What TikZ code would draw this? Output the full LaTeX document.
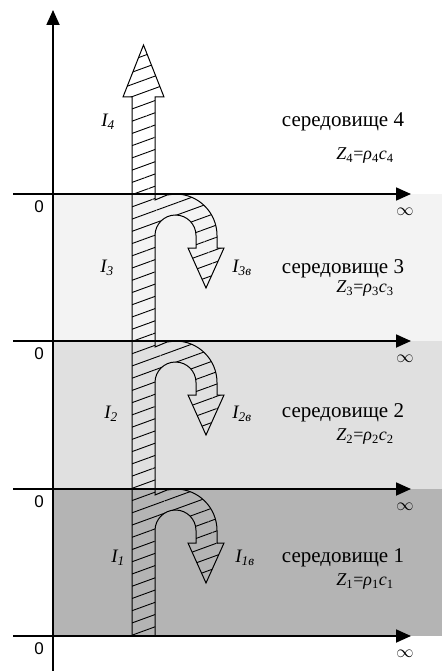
\documentclass[tikz,border=0pt]{standalone}
\usepackage{fontspec}
\setmainfont{Liberation Serif}
\newfontfamily\axisfont{Liberation Sans}
\usetikzlibrary{arrows.meta,patterns.meta}
\definecolor{mlight}{HTML}{F3F3F3}
\definecolor{mmid}{HTML}{E0E0E0}
\definecolor{mdark}{HTML}{B4B4B4}
\tikzset{
  axis/.style={line width=1.8pt,-{Triangle[length=15pt,width=13pt]}},
  beam/.style={draw=black,line width=1pt,line join=miter,pattern={Lines[angle=20,distance=11.5pt,line width=0.9pt]}},
  medium/.style={font=\fontsize{21}{23}\selectfont},
  imped/.style={font=\fontsize{18}{20}\selectfont},
  intens/.style={font=\fontsize{19}{21}\selectfont\itshape},
  zero/.style={font=\axisfont\fontsize{17}{17}\selectfont},
  infty/.style={font=\fontsize{17}{17}\selectfont},
}

\begin{document}
\begin{tikzpicture}[x=1pt,y=-1pt]
  \useasboundingbox (0,0) rectangle (442,671);
  % layers
  \fill[mlight] (53,194) rectangle (442,341);
  \fill[mmid] (53,341) rectangle (442,489);
  \fill[mdark] (53,489) rectangle (442,636);
  % incident, transmitted and reflected waves
  \path[beam] (132,636) -- (132,97) -- (123,97) -- (143.5,45) -- (164,97) -- (155,97)
    \foreach \y in {194,341,489} {
      -- (155,\y+6) -- (167,\y+1) -- (175.5,\y) arc[start angle=-90,end angle=0,radius=41.5]
      -- (217,\y+54) -- (224,\y+54) -- (206,\y+94) -- (188,\y+54) -- (196,\y+54)
      -- (196,\y+41.5) arc[start angle=0,end angle=-180,radius=20.5]
    } -- (155,636) -- cycle;
  % axes
  \coordinate (vb) at (53,671);
  \coordinate (vt) at (53,10);
  \draw[axis] (vb) -- (vt);
  \foreach \y/\n in {194/4,341/3,489/2,636/1} {
    \coordinate (a\n) at (13,\y);
    \coordinate (b\n) at (411,\y);
    \draw[axis] (a\n) -- (b\n);
    \node[zero] (z\n) at (39,\y+13) {0};
    \node[infty] (inf\n) at (405,\y+18) {$\infty$};
  }
  % labels
  \node[intens] (i4) at (108,122) {I\textsubscript{4}};
  \node[intens] (i3) at (107,268) {I\textsubscript{3}};
  \node[intens] (i3r) at (242,268) {I\textsubscript{3в}};
  \node[intens] (i2) at (111,414) {I\textsubscript{2}};
  \node[intens] (i2r) at (242,414) {I\textsubscript{2в}};
  \node[intens] (i1) at (118,558) {I\textsubscript{1}};
  \node[intens] (i1r) at (245,558) {I\textsubscript{1в}};
  \foreach \n/\y/\z in {4/122/156,3/269/289,2/413/437,1/558/582} {
    \node[medium] (m\n) at (343,\y) {середовище \n};
    \node[imped] (zz\n) at (365,\z) {\textit{Z}\textsubscript{\n}=\textit{ρ}\textsubscript{\n}\textit{c}\textsubscript{\n}};
  }
\end{tikzpicture}
\end{document}
